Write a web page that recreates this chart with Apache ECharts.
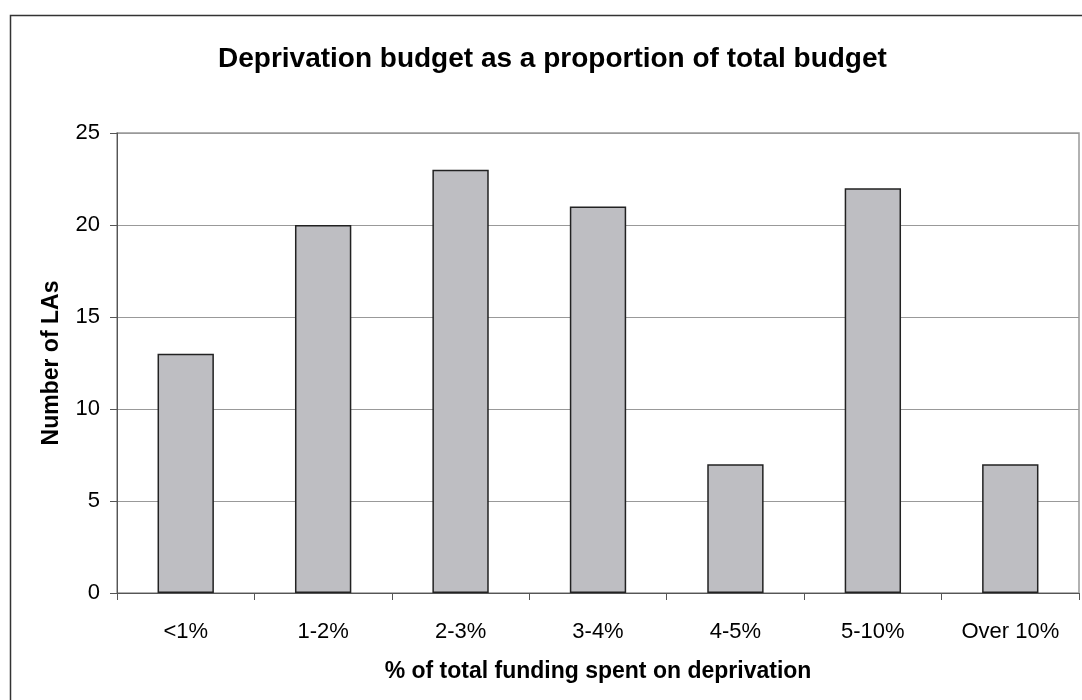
<!DOCTYPE html>
<html>
<head>
<meta charset="utf-8">
<script src="https://cdn.jsdelivr.net/npm/echarts@6/dist/echarts.min.js"></script>
<style>
  html, body { margin: 0; padding: 0; background: #fff; }
  #chart { width: 1082px; height: 700px; }
</style>
</head>
<body>
<div id="chart"></div>
<script>
// Share of total funding spent on deprivation, bucketed, with count of LAs per bucket
const categories = ['<1%', '1-2%', '2-3%', '3-4%', '4-5%', '5-10%', 'Over 10%'];
const laCounts = [13, 20, 23, 21, 7, 22, 7];
const yTicks = { min: 0, max: 25, interval: 5 };

const chart = echarts.init(document.getElementById('chart'), null, { renderer: 'canvas' });

const font = 'Arial, "Liberation Sans", Helvetica, sans-serif';

chart.setOption({
  backgroundColor: '#ffffff',
  animation: false,
  title: {
    text: 'Deprivation budget as a proportion of total budget',
    left: 213,
    top: 40,
    textStyle: { fontFamily: font, fontSize: 28, fontWeight: 'bold', color: '#000' }
  },
  graphic: [{
    // outer chart frame
    type: 'rect',
    shape: { x: 10.5, y: 15.5, width: 1200, height: 800 },
    style: { fill: 'none', stroke: '#333', lineWidth: 1.5 },
    silent: true,
    z: 100
  }],
  grid: {
    left: 117, right: 3, top: 133, bottom: 107,
    show: true,
    borderColor: '#999',
    borderWidth: 1.5
  },
  xAxis: {
    type: 'category',
    data: categories,
    name: '% of total funding spent on deprivation',
    nameLocation: 'middle',
    nameGap: 67,
    nameTextStyle: { fontFamily: font, fontSize: 23, fontWeight: 'bold', color: '#000' },
    axisLine: { lineStyle: { color: '#555', width: 1 } },
    axisTick: { show: true, alignWithLabel: false, length: 7, lineStyle: { color: '#555' } },
    axisLabel: { fontFamily: font, fontSize: 22, color: '#000', margin: 28 },
    splitLine: { show: false }
  },
  yAxis: {
    type: 'value',
    min: yTicks.min,
    max: yTicks.max,
    interval: yTicks.interval,
    name: 'Number of LAs',
    nameLocation: 'middle',
    nameGap: 54,
    nameRotate: 90,
    nameTextStyle: { fontFamily: font, fontSize: 23, fontWeight: 'bold', color: '#000' },
    axisLine: { show: true, lineStyle: { color: '#555', width: 1 } },
    axisTick: { show: true, length: 7, lineStyle: { color: '#555' } },
    axisLabel: { fontFamily: font, fontSize: 22, color: '#000', margin: 17 },
    splitLine: { show: true, lineStyle: { color: '#999', width: 1 } }
  },
  series: [{
    type: 'bar',
    data: laCounts,
    barWidth: '41%',
    itemStyle: { color: '#bebec2', borderColor: '#222', borderWidth: 1.5 }
  }]
});
</script>
</body>
</html>
